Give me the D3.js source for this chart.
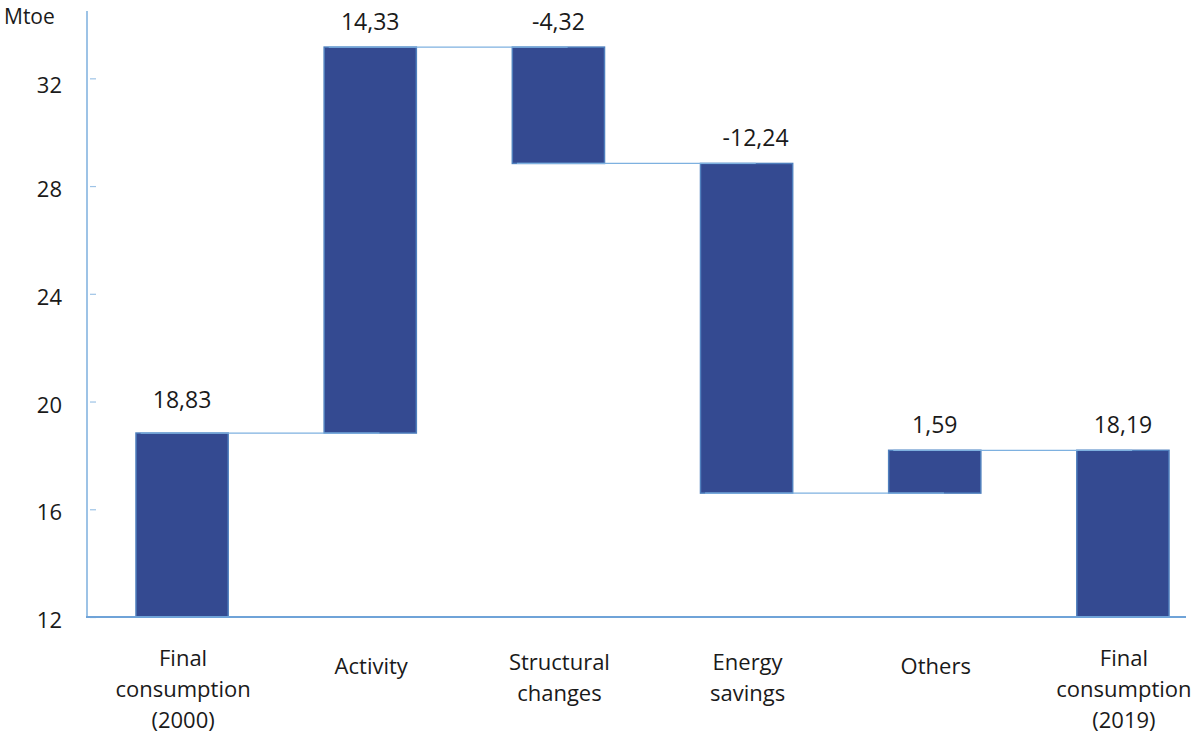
<!DOCTYPE html>
<html>
<head>
<meta charset="utf-8">
<script src="https://cdn.jsdelivr.net/npm/d3@7"></script>
<style>
  html, body { margin: 0; padding: 0; background: #ffffff; }
  svg { display: block; }
  text { font-family: "Open Sans", "Noto Sans", sans-serif; fill: #1a1a1a; }
</style>
</head>
<body>
<svg id="chart" width="1192" height="737"></svg>
<script>
// Decomposition of final energy consumption, 2000 -> 2019 (Mtoe)
const categories = [
  ["Final", "consumption", "(2000)"],
  ["Activity"],
  ["Structural", "changes"],
  ["Energy", "savings"],
  ["Others"],
  ["Final", "consumption", "(2019)"]
];
const values = [18.83, 14.33, -4.32, -12.24, 1.59, 18.19];
const labels = ["18,83", "14,33", "-4,32", "-12,24", "1,59", "18,19"];
const isTotal = [true, false, false, false, false, true];
const yTicks = [12, 16, 20, 24, 28, 32];
const yUnit = "Mtoe";

const svg = d3.select("#chart");
const yMin = 12;

// Running waterfall segments
let running = 0;
const segs = values.map((v, i) => {
  let start, end;
  if (isTotal[i]) { start = yMin; end = v; running = v; }
  else { start = running; end = running + v; running = end; }
  return { i, start, end, lo: Math.min(start, end), hi: Math.max(start, end), label: labels[i], cat: categories[i] };
});

const x = d3.scaleBand().domain(d3.range(categories.length)).range([88, 1217]).paddingInner(0.51).paddingOuter(0.255);
const y = d3.scaleLinear().domain([yMin, 34.5]).range([617, 11]);

const axisColor = "#9dc3e6";
const barFill = "#344a91";
const barStroke = "#4f7fbd";
const linkColor = "#7eb1e0";

// Y axis line and inward ticks
const yAxis = d3.axisRight(y).tickValues(yTicks).tickSize(7).tickFormat("");
const yg = svg.append("g").attr("transform", "translate(88,0)").call(yAxis);
yg.select(".domain").remove();
yg.selectAll(".tick line").attr("stroke", axisColor).attr("stroke-width", 1.2).attr("x1", 2).attr("x2", 8);
svg.append("line").attr("x1", 87).attr("x2", 87).attr("y1", y(34.5)).attr("y2", y(yMin))
  .attr("stroke", axisColor).attr("stroke-width", 2);

// Y tick labels
svg.append("g").selectAll("text").data(yTicks).join("text")
  .attr("x", 62).attr("y", d => y(d) + (d === 32 ? 6 : 2))
  .attr("text-anchor", "end").attr("dominant-baseline", "central")
  .attr("font-size", 22).text(d => d);

svg.append("text").attr("x", 4).attr("y", 24).attr("font-size", 21).text(yUnit);

// Bars
svg.append("g").selectAll("rect").data(segs).join("rect")
  .attr("x", d => x(d.i)).attr("width", x.bandwidth())
  .attr("y", d => y(d.hi)).attr("height", d => y(d.lo) - y(d.hi))
  .attr("fill", barFill).attr("stroke", barStroke).attr("stroke-width", 1.5);

// Connectors between consecutive bars
const links = segs.slice(0, -1).map((d, k) => ({ from: d.i, to: segs[k + 1].i, v: d.end }));
svg.append("g").selectAll("line").data(links).join("line")
  .attr("x1", d => x(d.from) + x.bandwidth() * 0.05)
  .attr("x2", d => x(d.to) + x.bandwidth() * 0.6)
  .attr("y1", d => y(d.v)).attr("y2", d => y(d.v))
  .attr("stroke", linkColor).attr("stroke-width", 1.3);

// Baseline
svg.append("line").attr("x1", 86).attr("x2", 1186).attr("y1", y(yMin)).attr("y2", y(yMin))
  .attr("stroke", "#6fa3d8").attr("stroke-width", 2);

// Value labels
svg.append("g").selectAll("text").data(segs).join("text")
  .attr("x", d => x(d.i) + x.bandwidth() / 2 + (d.i === 3 ? 9 : 0))
  .attr("y", d => y(d.hi) - (d.i === 0 ? 25 : 17))
  .attr("text-anchor", "middle").attr("font-size", 23).text(d => d.label);

// Category labels
const catG = svg.append("g").selectAll("text").data(segs).join("text")
  .attr("text-anchor", "middle").attr("font-size", 22);
catG.each(function(d) {
  const n = d.cat.length;
  const first = 665 - 4 * (n - 1);
  d3.select(this).selectAll("tspan").data(d.cat).join("tspan")
    .attr("x", x(d.i) + x.bandwidth() / 2 + 1)
    .attr("y", (t, j) => first + j * 31)
    .attr("dominant-baseline", "central")
    .text(t => t);
});
</script>
</body>
</html>
